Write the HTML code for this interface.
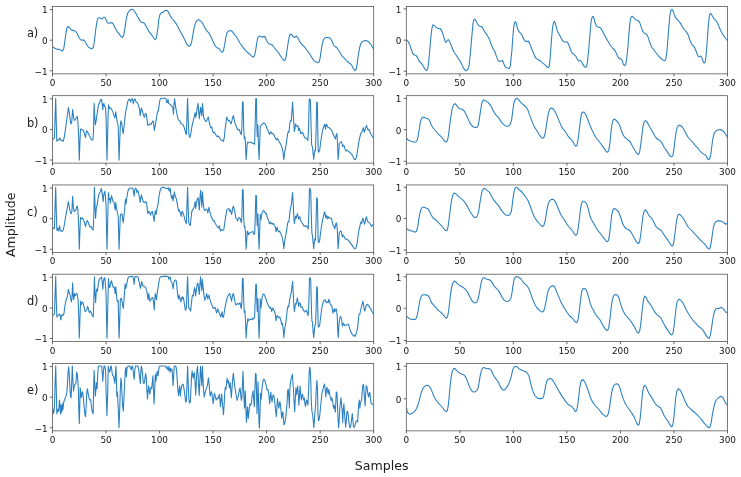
<!DOCTYPE html>
<html><head><meta charset="utf-8"><title>Signals</title>
<style>
html,body{margin:0;padding:0;background:#fff;}
svg{display:block;font-family:"DejaVu Sans","Liberation Sans",sans-serif;}
.t{font-size:8.9px;fill:#141414;}
.r{font-size:11.4px;fill:#1a1a1a;}
.l{font-size:12.6px;fill:#1a1a1a;}
.c{fill:none;stroke:#2a80c1;stroke-width:1.08;stroke-linejoin:round;stroke-linecap:butt;}
.s{fill:none;stroke:#4d4d4d;stroke-width:0.75;}
.k{stroke:#333;stroke-width:0.75;}
</style></head><body>
<svg width="741" height="477" viewBox="0 0 741 477">
<rect width="741" height="477" fill="#fff"/>

<g>
<clipPath id="cp00"><rect x="52.5" y="6.45" width="321.2" height="67.4"/></clipPath>
<polyline class="c" clip-path="url(#cp00)" points="52.7,46.6 54.5,48.1 56.8,49.3 59.4,49.4 61.3,50.5 62.5,50.9 63.6,49.3 64.6,43.2 65.8,34.2 66.9,28.1 68.0,26.3 69.3,27.7 71.1,29.7 72.6,30.4 74.4,30.6 76.0,31.6 77.5,34.2 79.0,37.5 80.5,39.8 82.0,40.2 83.5,39.9 85.0,41.4 87.0,45.0 88.5,47.3 90.4,48.4 92.2,48.7 93.5,47.0 94.5,40.2 95.7,29.7 97.1,20.6 98.3,17.9 99.5,17.6 101.0,18.6 102.5,18.5 103.6,17.3 104.8,17.3 105.8,19.1 107.0,22.1 108.5,23.3 110.1,22.9 111.9,22.7 113.4,24.4 115.2,28.1 117.1,31.6 119.1,33.9 120.9,36.4 122.4,37.5 123.5,36.0 124.7,29.7 126.2,19.1 127.7,13.1 129.7,10.3 131.5,9.3 133.0,9.6 134.5,11.2 136.3,14.3 138.3,17.9 140.2,21.1 141.7,22.4 143.6,22.7 145.1,24.4 147.3,28.4 149.6,32.4 151.9,35.2 153.8,38.0 155.2,39.6 156.4,38.0 157.4,31.2 158.0,28.1 158.8,19.1 159.8,14.9 161.0,13.1 162.8,12.3 164.8,10.8 166.3,10.2 167.5,10.8 168.9,13.1 170.4,16.1 171.9,18.5 173.8,20.6 176.1,23.6 178.4,27.8 180.6,31.9 182.9,36.0 185.2,41.0 187.0,44.4 188.5,46.1 189.7,46.2 190.9,44.4 192.0,40.2 193.0,34.2 194.2,27.4 195.7,22.4 197.2,20.3 198.7,19.8 200.6,20.9 202.5,22.9 204.0,25.9 205.5,28.9 207.0,31.2 209.0,33.0 210.8,36.4 213.1,41.4 215.0,45.5 216.5,47.5 218.4,48.2 219.9,49.7 221.4,52.0 222.6,52.3 223.6,50.0 224.7,44.7 225.9,37.2 227.1,32.7 228.6,31.2 230.4,30.6 231.9,31.2 233.7,33.4 235.7,36.0 238.0,39.5 240.2,43.5 242.5,46.6 244.8,49.6 247.0,52.0 249.3,53.8 251.6,56.1 253.4,57.3 254.6,55.3 255.8,49.3 257.0,41.7 258.0,37.5 259.4,36.0 260.9,36.4 262.4,37.2 263.6,36.6 264.8,36.4 266.0,39.0 267.2,41.7 268.7,43.7 270.5,44.4 272.0,44.7 273.8,47.0 275.8,49.6 278.1,52.0 279.9,55.0 281.8,58.0 283.4,59.8 284.7,60.6 285.9,57.6 287.1,50.0 288.3,41.7 289.4,36.0 290.4,33.9 291.7,34.5 292.9,36.4 294.2,37.5 295.4,36.9 296.6,36.0 298.0,38.0 299.5,41.4 301.5,44.0 303.7,46.2 306.0,49.0 308.2,52.0 310.5,55.3 312.5,58.6 314.3,61.0 316.1,62.1 317.6,62.8 318.8,62.5 319.9,59.1 320.9,52.3 322.1,44.7 323.3,39.9 324.8,38.0 326.7,37.5 328.6,37.5 330.1,38.0 331.6,40.2 333.1,44.0 334.2,45.9 335.4,46.7 336.9,47.8 338.4,50.0 340.2,53.0 342.2,56.1 344.5,58.3 346.7,61.0 349.0,62.8 350.8,64.1 352.3,66.2 353.8,69.2 355.0,70.7 356.1,69.6 357.1,64.4 358.3,55.3 359.6,47.8 360.8,43.5 362.3,41.7 364.1,40.8 365.6,40.4 367.4,41.0 369.4,42.6 371.3,45.0 372.8,47.8 373.6,48.8"/>
<rect class="s" x="52.5" y="6.45" width="321.2" height="67.4"/>
<line class="k" x1="52.50" y1="73.85" x2="52.50" y2="76.45"/>
<text class="t" x="52.50" y="85.95" text-anchor="middle">0</text>
<line class="k" x1="106.03" y1="73.85" x2="106.03" y2="76.45"/>
<text class="t" x="106.03" y="85.95" text-anchor="middle">50</text>
<line class="k" x1="159.57" y1="73.85" x2="159.57" y2="76.45"/>
<text class="t" x="159.57" y="85.95" text-anchor="middle">100</text>
<line class="k" x1="213.10" y1="73.85" x2="213.10" y2="76.45"/>
<text class="t" x="213.10" y="85.95" text-anchor="middle">150</text>
<line class="k" x1="266.63" y1="73.85" x2="266.63" y2="76.45"/>
<text class="t" x="266.63" y="85.95" text-anchor="middle">200</text>
<line class="k" x1="320.17" y1="73.85" x2="320.17" y2="76.45"/>
<text class="t" x="320.17" y="85.95" text-anchor="middle">250</text>
<line class="k" x1="373.70" y1="73.85" x2="373.70" y2="76.45"/>
<text class="t" x="373.70" y="85.95" text-anchor="middle">300</text>
<line class="k" x1="49.90" y1="9.50" x2="52.50" y2="9.50"/>
<text class="t" x="47.70" y="13.30" text-anchor="end">1</text>
<line class="k" x1="49.90" y1="40.20" x2="52.50" y2="40.20"/>
<text class="t" x="47.70" y="44.00" text-anchor="end">0</text>
<line class="k" x1="49.90" y1="70.75" x2="52.50" y2="70.75"/>
<text class="t" x="47.70" y="74.55" text-anchor="end">−1</text>
</g>
<g>
<clipPath id="cp01"><rect x="52.5" y="95.7" width="321.2" height="67.4"/></clipPath>
<polyline class="c" clip-path="url(#cp01)" points="52.7,138.3 53.8,139.0 54.5,136.8 55.1,115.6 55.7,98.3 56.3,123.2 56.8,141.3 57.8,139.8 58.8,140.1 59.7,137.8 60.6,140.1 61.8,140.2 63.3,141.3 64.3,136.8 65.5,129.2 66.9,118.7 68.4,107.6 69.3,112.6 70.1,119.4 70.8,123.9 71.7,122.4 72.6,109.6 73.4,115.6 74.1,120.2 75.3,119.9 76.4,117.4 77.2,116.4 77.9,121.7 78.7,138.3 79.3,160.1 79.9,142.8 80.5,129.2 81.4,128.9 82.4,130.0 83.5,130.7 84.7,134.5 85.6,137.5 86.5,130.7 87.4,131.9 88.5,133.7 89.5,136.0 90.7,138.3 91.9,140.1 92.9,139.8 93.5,132.2 94.1,103.3 94.7,115.6 95.3,125.0 96.0,121.7 97.1,114.1 98.3,105.8 99.5,102.8 100.7,99.8 101.6,99.3 102.2,103.6 102.8,109.6 103.4,103.9 104.0,103.6 104.6,106.6 105.5,107.3 106.0,115.6 107.0,160.3 108.1,115.6 108.5,104.8 109.1,108.8 109.8,107.3 110.7,108.1 111.9,109.9 113.1,112.6 114.1,115.6 114.9,117.9 115.8,111.9 116.4,117.1 117.3,122.4 118.2,125.4 118.7,145.8 119.1,160.1 119.7,142.8 120.3,126.2 120.9,120.9 121.7,123.2 122.4,129.2 123.2,133.7 123.9,127.7 124.8,118.7 125.7,111.9 126.7,107.3 127.6,102.1 128.5,99.8 129.7,99.3 130.6,102.1 131.2,99.8 132.1,98.6 132.7,99.8 133.3,103.9 133.9,100.5 134.8,99.0 135.4,99.3 136.0,102.1 136.9,102.4 137.8,103.6 138.7,105.8 139.6,109.6 140.2,115.6 140.8,111.9 141.4,107.8 142.0,109.6 142.8,112.6 143.6,115.6 144.5,117.1 145.4,113.4 146.3,114.1 146.9,118.7 147.8,125.4 148.8,124.7 149.9,123.9 151.1,124.4 152.3,121.7 153.2,120.9 153.8,125.4 154.4,130.4 155.3,125.4 156.4,118.7 157.4,111.9 158.0,111.9 158.8,108.1 159.5,102.1 160.4,98.7 161.8,98.3 163.7,98.3 165.2,98.4 166.1,99.0 166.8,102.8 167.4,102.1 168.0,99.3 168.6,103.3 169.5,103.9 170.7,105.1 171.9,106.3 172.8,107.3 173.4,114.1 174.0,105.1 174.6,98.7 175.4,105.1 176.1,109.6 177.0,114.1 177.9,118.7 178.8,120.2 179.9,120.9 180.6,123.2 181.8,123.9 182.9,124.4 184.0,127.0 184.9,130.0 185.8,133.7 186.4,134.5 187.0,115.6 187.6,98.3 188.2,118.7 188.8,133.7 189.7,137.5 190.6,135.2 191.5,129.2 192.4,123.9 193.5,120.2 194.5,115.6 195.1,112.6 195.7,117.1 196.5,114.1 197.2,108.1 198.1,103.3 198.7,111.1 199.3,118.7 199.9,112.6 200.6,107.3 201.2,112.6 201.8,115.6 202.4,103.6 203.0,109.6 203.6,117.1 204.5,119.4 205.5,120.9 206.6,121.4 207.5,118.7 208.4,117.1 209.0,120.9 209.9,125.4 210.8,127.7 211.7,127.0 212.6,130.7 213.5,133.0 214.4,132.2 215.3,134.0 216.5,136.0 217.6,136.8 218.7,136.0 219.9,138.3 221.1,140.1 222.3,140.5 223.5,141.3 224.4,136.8 225.1,129.2 225.9,123.2 226.7,117.1 227.4,118.7 228.3,120.9 229.2,120.2 230.1,121.7 231.0,123.9 231.9,120.9 232.8,117.1 233.4,115.6 234.2,119.4 235.0,123.2 235.9,125.4 236.8,127.7 237.7,130.0 238.6,129.2 239.5,130.0 240.4,133.0 241.3,134.5 241.9,127.7 242.5,102.1 243.1,102.1 243.7,127.7 244.3,139.0 244.9,136.8 245.5,144.3 246.1,159.4 246.7,151.8 247.3,142.8 247.9,142.0 248.8,142.8 250.0,142.5 251.3,142.0 252.5,143.5 253.7,143.5 254.6,144.3 255.2,123.2 255.8,98.6 256.4,98.6 256.8,123.2 257.3,136.8 257.9,124.7 258.5,145.8 259.1,159.4 259.7,142.8 260.3,126.2 261.2,125.4 262.4,123.9 263.6,122.9 264.8,123.2 265.9,125.4 266.0,125.4 266.9,128.5 267.8,130.0 268.7,132.2 269.6,134.5 270.2,132.5 271.1,131.9 272.0,133.7 272.9,133.4 273.8,134.5 274.8,136.8 275.7,139.0 276.6,139.8 277.5,138.3 278.4,140.5 279.3,142.0 280.2,143.5 281.1,145.1 282.0,147.3 282.9,151.1 283.8,159.7 284.4,154.9 285.0,150.3 285.9,145.8 286.8,139.8 287.7,133.7 288.3,131.5 288.9,132.2 289.5,127.0 290.1,121.7 290.7,120.2 291.3,120.9 292.0,111.1 292.6,102.1 293.2,112.6 293.8,123.2 294.4,131.5 295.0,128.5 295.6,123.9 296.2,125.4 297.1,126.5 298.0,125.9 298.6,130.7 299.2,128.5 300.0,130.0 300.7,133.7 301.6,133.0 302.5,132.2 303.4,134.5 304.3,136.8 305.2,138.3 306.1,138.0 307.0,139.0 307.9,140.5 308.6,127.7 309.2,99.3 309.8,99.0 310.4,100.2 311.0,123.2 311.6,144.3 312.5,147.3 313.1,153.4 313.7,159.4 314.3,153.4 314.9,150.0 315.5,150.6 316.1,130.7 316.7,102.1 317.3,102.4 317.8,130.7 318.2,151.5 318.8,152.1 319.7,150.3 320.6,142.8 321.5,136.8 322.4,131.5 323.3,127.7 324.2,125.4 324.8,124.4 325.5,129.2 326.1,125.0 326.7,124.4 327.6,127.0 328.5,127.4 329.4,128.0 330.6,129.2 331.8,130.4 332.7,133.0 333.6,135.2 334.5,137.1 335.4,139.0 336.2,135.2 336.9,133.4 337.5,142.8 338.1,159.4 338.7,153.4 339.3,143.5 340.2,142.5 341.1,141.6 342.0,143.5 342.7,146.6 343.3,145.1 344.2,145.8 345.1,149.1 346.0,151.1 346.9,150.0 347.8,150.6 349.0,151.8 350.2,152.6 351.4,154.1 352.6,155.6 353.5,157.9 354.4,159.4 355.3,159.7 356.2,157.9 357.1,153.4 358.0,147.3 358.9,141.3 359.9,136.8 360.8,133.4 361.7,132.5 362.6,130.0 363.2,127.7 363.8,130.0 364.4,132.2 365.0,130.0 365.9,127.0 366.5,125.4 367.1,127.4 368.0,130.0 368.9,129.2 369.8,131.5 370.7,133.7 371.6,135.2 372.5,136.8 373.6,138.1"/>
<rect class="s" x="52.5" y="95.7" width="321.2" height="67.4"/>
<line class="k" x1="52.50" y1="163.10" x2="52.50" y2="165.70"/>
<text class="t" x="52.50" y="175.20" text-anchor="middle">0</text>
<line class="k" x1="106.03" y1="163.10" x2="106.03" y2="165.70"/>
<text class="t" x="106.03" y="175.20" text-anchor="middle">50</text>
<line class="k" x1="159.57" y1="163.10" x2="159.57" y2="165.70"/>
<text class="t" x="159.57" y="175.20" text-anchor="middle">100</text>
<line class="k" x1="213.10" y1="163.10" x2="213.10" y2="165.70"/>
<text class="t" x="213.10" y="175.20" text-anchor="middle">150</text>
<line class="k" x1="266.63" y1="163.10" x2="266.63" y2="165.70"/>
<text class="t" x="266.63" y="175.20" text-anchor="middle">200</text>
<line class="k" x1="320.17" y1="163.10" x2="320.17" y2="165.70"/>
<text class="t" x="320.17" y="175.20" text-anchor="middle">250</text>
<line class="k" x1="373.70" y1="163.10" x2="373.70" y2="165.70"/>
<text class="t" x="373.70" y="175.20" text-anchor="middle">300</text>
<line class="k" x1="49.90" y1="98.75" x2="52.50" y2="98.75"/>
<text class="t" x="47.70" y="102.55" text-anchor="end">1</text>
<line class="k" x1="49.90" y1="129.45" x2="52.50" y2="129.45"/>
<text class="t" x="47.70" y="133.25" text-anchor="end">0</text>
<line class="k" x1="49.90" y1="160.00" x2="52.50" y2="160.00"/>
<text class="t" x="47.70" y="163.80" text-anchor="end">−1</text>
</g>
<g>
<clipPath id="cp02"><rect x="52.5" y="184.95" width="321.2" height="67.4"/></clipPath>
<polyline class="c" clip-path="url(#cp02)" points="52.7,227.3 53.6,228.8 54.5,228.0 55.1,204.6 55.7,187.3 56.3,212.2 56.9,230.3 57.8,228.0 58.4,231.0 59.1,228.8 59.7,225.8 60.3,231.0 61.2,230.6 62.1,231.5 63.3,230.0 64.3,225.0 65.4,218.2 66.6,211.4 67.5,206.9 68.4,201.6 69.3,206.9 70.2,211.4 71.1,213.7 71.9,211.4 72.6,196.3 73.4,207.7 74.1,211.4 75.0,210.7 76.0,209.9 76.6,206.9 77.2,206.1 77.9,209.9 78.7,227.3 79.3,249.1 79.9,231.8 80.5,217.5 81.4,219.0 82.3,217.9 83.5,219.7 84.7,223.5 85.6,226.5 86.5,221.5 87.4,220.5 88.3,222.7 89.5,226.1 90.4,227.3 91.3,226.5 92.2,229.1 93.2,230.0 93.8,216.7 94.4,187.3 95.0,204.6 95.6,218.2 96.2,209.2 97.1,204.6 98.3,197.1 99.2,193.3 100.4,191.8 101.3,188.3 101.9,191.1 102.5,195.6 103.1,201.6 103.7,195.6 104.3,192.3 104.9,191.4 105.5,197.1 106.0,204.6 107.0,249.3 108.1,204.6 108.5,192.6 109.1,199.4 109.8,198.6 110.4,203.1 111.0,198.6 111.6,195.6 112.2,198.6 113.1,201.6 114.0,202.4 114.6,206.1 115.2,209.9 115.8,202.4 116.4,207.7 117.3,212.2 118.2,216.0 118.7,234.8 119.1,249.1 119.7,231.8 120.3,216.0 121.2,213.7 122.1,214.4 122.7,219.7 123.3,222.7 123.9,216.7 124.8,207.7 125.4,199.4 126.0,203.9 126.7,198.6 127.6,192.6 128.5,189.5 129.7,188.3 130.9,188.0 132.1,188.0 133.0,188.8 133.6,192.3 134.2,196.3 134.8,189.5 135.4,188.3 136.3,188.8 136.9,192.6 137.5,190.8 138.1,191.1 138.7,194.1 139.6,197.8 140.2,202.4 140.8,198.6 141.4,194.8 142.0,197.1 142.9,200.9 143.9,202.4 144.8,202.4 145.7,201.6 146.6,203.1 147.2,208.4 147.8,213.7 148.7,211.4 149.6,212.2 150.5,215.2 151.4,212.2 152.3,211.4 152.9,214.4 153.5,217.5 154.1,221.5 154.7,215.2 155.3,210.7 156.1,214.4 156.8,209.9 157.4,206.9 158.0,204.6 158.9,197.1 159.8,191.8 161.0,188.3 162.2,187.3 164.0,187.4 165.5,188.3 166.8,188.8 167.7,188.0 168.3,187.7 168.9,190.3 169.5,191.1 170.1,188.0 170.7,192.6 171.3,196.3 171.9,198.6 172.5,195.6 173.1,200.9 173.7,197.1 174.3,191.8 174.9,194.8 175.5,197.1 176.1,197.8 177.0,202.4 177.9,207.7 178.8,211.4 179.4,209.9 180.3,212.9 181.2,216.4 181.8,212.2 182.4,211.4 183.0,212.9 184.0,216.0 184.9,219.7 185.8,222.7 186.4,223.5 187.0,204.6 187.6,187.3 188.2,207.7 188.8,222.7 189.7,225.0 190.3,225.5 190.9,219.7 191.8,211.4 192.7,209.9 193.6,208.4 194.5,205.4 195.1,201.6 195.7,208.4 196.6,201.6 197.5,198.6 198.1,197.8 198.7,203.1 199.3,209.9 199.9,198.6 200.6,190.3 201.2,198.6 201.8,206.9 202.4,191.8 203.0,200.1 203.6,206.9 204.5,210.7 205.4,209.9 206.3,209.2 207.2,209.9 207.8,212.9 208.4,209.9 209.0,207.3 209.6,210.7 210.5,214.4 211.4,217.5 212.3,218.2 213.2,220.9 214.1,220.5 215.0,222.7 216.2,225.0 217.5,227.0 218.4,228.0 219.3,225.8 219.9,228.8 220.5,231.0 221.4,229.5 222.6,230.3 223.8,230.0 224.4,225.0 225.3,219.0 226.2,213.7 227.1,209.2 228.0,208.9 228.9,208.4 229.8,211.4 230.4,209.9 231.0,212.2 231.6,214.4 232.2,211.4 232.8,207.7 233.4,206.1 234.0,208.4 235.0,212.9 235.9,218.2 236.8,219.0 237.7,220.9 238.6,218.2 239.5,217.5 240.4,219.0 241.3,222.7 241.9,216.7 242.5,189.5 243.1,189.5 243.7,216.7 244.3,227.3 244.9,226.5 245.5,233.3 246.1,249.1 246.7,240.8 247.3,231.0 247.9,231.8 248.5,234.8 249.4,233.3 250.3,232.5 251.6,232.1 252.8,231.5 253.7,234.1 254.6,234.1 255.2,219.7 255.8,195.6 256.4,195.6 256.8,216.7 257.3,225.8 257.9,213.7 258.5,234.8 259.1,249.1 259.7,231.8 260.3,214.4 260.9,219.7 261.5,216.0 262.4,212.2 263.3,210.4 264.5,211.4 265.7,213.7 266.0,212.9 266.9,216.0 267.8,219.0 268.7,220.5 269.3,223.5 269.9,222.0 270.8,223.9 271.7,222.7 272.6,224.2 273.5,223.5 274.4,225.8 275.4,227.3 276.0,231.8 276.6,228.8 277.2,227.3 277.8,230.3 278.7,231.8 279.6,231.0 280.5,233.3 281.4,234.8 282.3,237.8 283.2,242.4 283.8,248.7 284.4,243.9 285.0,239.3 285.9,234.8 286.8,228.8 287.7,223.0 288.3,221.5 288.9,222.0 289.5,216.0 290.1,210.7 290.7,207.7 291.3,204.6 292.0,198.6 292.6,192.6 293.2,203.1 293.8,216.7 294.4,223.5 295.0,219.7 295.6,216.0 296.2,218.2 296.8,216.0 297.4,213.7 298.0,216.0 298.6,219.0 299.2,217.5 299.8,216.7 300.4,219.7 301.3,221.5 302.2,223.0 303.1,224.2 304.0,226.1 304.9,225.8 305.8,226.5 306.7,226.1 307.6,227.3 308.2,229.1 308.9,212.2 309.5,188.3 310.1,188.8 310.7,191.1 311.3,215.2 311.9,233.3 312.5,235.6 313.1,242.4 313.7,248.7 314.3,242.4 314.9,238.6 315.5,240.1 316.1,219.7 316.7,197.8 317.3,198.3 317.8,221.2 318.2,241.6 318.8,242.7 319.7,240.1 320.6,232.5 321.5,226.5 322.4,221.2 323.3,216.7 324.2,212.9 324.8,211.9 325.5,217.5 326.1,215.2 326.7,216.7 327.3,219.0 327.9,216.0 328.5,218.2 329.4,217.5 330.6,218.2 331.5,218.5 332.4,222.7 333.3,225.8 334.2,226.5 334.8,228.8 335.4,225.8 336.2,222.7 336.9,225.0 337.5,233.3 338.1,248.7 338.7,242.4 339.3,232.5 340.2,231.5 341.1,231.0 341.7,233.3 342.4,237.1 343.0,235.1 343.9,236.3 344.8,238.1 345.7,239.3 346.9,239.0 348.1,240.1 349.3,241.6 350.5,243.1 351.7,244.6 352.9,246.6 354.1,248.4 355.3,248.7 356.2,247.2 357.1,243.1 358.0,236.3 358.9,230.0 359.9,226.5 360.5,222.7 361.1,222.0 361.7,223.5 362.3,220.5 362.9,218.2 363.5,220.5 364.1,222.7 364.7,224.2 365.3,221.5 365.9,218.2 366.5,216.7 367.1,219.7 368.0,222.0 368.9,222.4 369.8,223.5 370.7,225.0 371.6,226.5 372.5,225.0 373.6,224.1"/>
<rect class="s" x="52.5" y="184.95" width="321.2" height="67.4"/>
<line class="k" x1="52.50" y1="252.35" x2="52.50" y2="254.95"/>
<text class="t" x="52.50" y="264.45" text-anchor="middle">0</text>
<line class="k" x1="106.03" y1="252.35" x2="106.03" y2="254.95"/>
<text class="t" x="106.03" y="264.45" text-anchor="middle">50</text>
<line class="k" x1="159.57" y1="252.35" x2="159.57" y2="254.95"/>
<text class="t" x="159.57" y="264.45" text-anchor="middle">100</text>
<line class="k" x1="213.10" y1="252.35" x2="213.10" y2="254.95"/>
<text class="t" x="213.10" y="264.45" text-anchor="middle">150</text>
<line class="k" x1="266.63" y1="252.35" x2="266.63" y2="254.95"/>
<text class="t" x="266.63" y="264.45" text-anchor="middle">200</text>
<line class="k" x1="320.17" y1="252.35" x2="320.17" y2="254.95"/>
<text class="t" x="320.17" y="264.45" text-anchor="middle">250</text>
<line class="k" x1="373.70" y1="252.35" x2="373.70" y2="254.95"/>
<text class="t" x="373.70" y="264.45" text-anchor="middle">300</text>
<line class="k" x1="49.90" y1="188.00" x2="52.50" y2="188.00"/>
<text class="t" x="47.70" y="191.80" text-anchor="end">1</text>
<line class="k" x1="49.90" y1="218.70" x2="52.50" y2="218.70"/>
<text class="t" x="47.70" y="222.50" text-anchor="end">0</text>
<line class="k" x1="49.90" y1="249.25" x2="52.50" y2="249.25"/>
<text class="t" x="47.70" y="253.05" text-anchor="end">−1</text>
</g>
<g>
<clipPath id="cp03"><rect x="52.5" y="274.2" width="321.2" height="67.4"/></clipPath>
<polyline class="c" clip-path="url(#cp03)" points="52.7,314.8 53.6,315.1 54.5,314.0 55.1,293.6 55.7,276.3 56.3,301.2 56.9,317.0 57.8,315.5 58.8,314.8 59.7,314.0 60.3,316.3 60.9,320.0 61.5,315.5 62.1,314.8 63.0,315.5 63.9,314.0 64.8,306.5 65.7,301.9 66.6,298.9 67.5,295.9 68.4,289.4 69.3,292.9 70.2,295.1 70.8,298.9 71.4,301.9 72.0,298.2 72.6,282.8 73.2,295.1 73.8,299.7 74.4,293.6 75.0,295.9 76.0,294.4 76.9,293.3 77.5,296.7 78.1,298.9 78.7,316.3 79.3,338.1 79.9,320.8 80.5,301.2 81.1,305.0 81.7,303.4 82.3,301.9 83.2,303.4 84.1,307.2 85.0,311.4 85.9,311.0 86.8,309.5 87.4,306.5 88.0,307.2 88.6,310.2 89.5,312.5 90.4,311.0 91.3,313.2 92.2,315.5 93.2,317.0 93.8,301.2 94.4,276.7 95.0,293.6 95.6,302.7 96.2,292.1 96.8,289.1 97.4,291.4 98.3,284.6 99.2,279.3 100.1,278.5 101.0,277.8 101.6,277.0 102.2,281.6 102.8,289.1 103.4,282.3 104.0,278.5 104.9,277.8 105.5,286.1 106.0,293.6 107.0,338.3 108.1,293.6 108.5,278.5 109.1,286.8 109.8,287.6 110.4,284.6 111.0,281.6 111.6,280.8 112.2,283.8 112.8,286.1 113.4,287.6 114.0,286.8 114.6,289.1 115.2,293.6 115.8,286.8 116.4,293.6 117.0,300.4 117.6,301.9 118.2,300.4 118.7,323.8 119.1,338.1 119.7,320.8 120.3,300.4 120.9,298.2 121.5,298.9 122.1,301.2 122.7,305.7 123.3,308.4 123.9,301.2 124.5,292.9 125.1,283.8 125.7,288.4 126.4,286.1 127.0,283.1 127.6,279.3 128.5,277.3 129.7,276.7 131.2,276.4 132.4,276.4 133.0,277.0 133.6,280.1 134.2,284.3 134.8,277.0 135.7,276.4 136.9,276.7 138.1,277.3 138.7,280.1 139.3,282.3 139.9,286.1 140.5,288.4 141.1,284.6 141.7,281.6 142.3,283.8 142.9,286.1 143.9,286.1 144.8,286.8 145.7,287.6 146.3,289.9 146.9,291.4 147.5,295.9 148.1,299.7 148.7,293.6 149.3,297.4 149.9,301.2 150.8,299.7 151.7,298.2 152.6,297.4 153.2,299.7 153.8,305.0 154.3,309.9 154.7,301.2 155.3,293.6 155.9,296.7 156.5,299.7 157.1,293.6 158.0,288.4 158.8,283.1 159.5,278.5 160.7,276.7 162.5,276.4 164.8,276.4 167.1,276.4 168.3,276.7 168.9,279.3 169.5,277.3 170.1,277.0 170.7,280.1 171.3,281.6 171.9,283.1 172.5,284.6 173.1,288.8 173.7,283.8 174.3,280.4 175.2,280.1 176.1,280.4 176.7,284.6 177.3,290.6 177.9,295.9 178.5,298.9 179.1,295.1 179.7,297.4 180.3,300.4 180.9,301.9 181.5,298.2 182.1,296.7 182.7,298.9 183.3,297.4 184.0,301.2 184.6,305.7 185.2,309.5 185.8,310.2 186.4,307.2 187.0,290.6 187.6,276.7 188.2,295.1 188.8,308.0 189.7,308.7 190.6,311.0 191.2,305.7 191.8,299.7 192.4,295.1 193.3,295.9 193.9,292.1 194.5,287.6 195.1,289.9 195.7,295.9 196.3,290.6 196.9,286.1 197.5,283.1 198.1,283.8 198.7,289.1 199.3,294.4 199.9,284.6 200.6,276.7 201.2,284.6 201.8,290.6 202.4,279.3 203.0,286.1 203.6,292.1 204.2,296.7 204.8,300.4 205.4,298.2 206.0,297.4 206.6,293.6 207.2,295.9 207.8,298.9 208.4,296.7 209.0,295.1 209.6,298.2 210.5,301.2 211.4,304.2 212.3,305.7 213.2,308.4 214.1,308.0 215.0,307.2 215.9,310.2 216.5,313.2 217.1,311.0 217.8,308.7 218.4,311.0 219.3,313.2 220.2,315.5 220.8,317.0 221.4,314.8 222.0,311.7 222.6,316.3 223.2,317.5 223.8,315.5 224.4,311.7 225.0,307.2 225.6,305.0 226.2,301.9 227.1,298.2 228.0,295.9 228.9,294.4 229.8,293.6 230.4,295.9 231.0,298.9 231.6,301.2 232.2,297.4 232.8,294.4 233.4,293.6 234.0,296.7 234.7,300.4 235.3,303.4 235.9,305.0 236.8,304.2 237.7,303.4 238.6,304.5 239.5,303.4 240.1,302.7 240.7,306.5 241.3,308.7 241.9,301.2 242.5,278.5 243.1,278.5 243.7,301.2 244.3,312.5 244.9,310.5 245.5,320.8 246.1,338.1 246.7,328.3 247.3,323.1 247.9,318.5 248.5,320.8 249.1,320.0 250.0,319.6 250.9,319.0 251.9,319.6 252.8,318.1 253.7,319.0 254.6,317.0 255.2,301.2 255.8,284.6 256.4,284.6 256.8,301.2 257.3,311.7 257.9,298.2 258.5,320.8 259.1,338.1 259.7,320.8 260.3,298.9 260.9,308.0 261.5,303.4 262.1,297.4 263.0,294.4 263.9,293.9 264.8,295.9 265.7,298.2 266.0,298.9 266.9,301.9 267.8,304.2 268.7,306.0 269.6,308.0 270.5,307.2 271.1,308.7 271.7,311.4 272.3,308.7 272.9,308.0 273.5,310.2 274.4,311.0 275.4,314.8 276.0,320.8 276.6,317.0 277.2,315.5 278.1,317.0 279.0,317.8 279.9,317.0 280.5,319.3 281.1,321.5 281.7,324.6 282.3,323.1 282.9,326.8 283.5,331.4 283.8,337.7 284.4,331.4 285.0,327.1 285.6,323.8 286.2,319.3 286.8,314.0 287.4,308.7 288.0,306.0 288.6,307.2 289.2,303.4 289.8,298.9 290.4,295.9 291.0,293.6 291.7,289.1 292.6,281.3 293.2,292.1 293.8,304.2 294.4,311.4 295.0,307.2 295.6,303.4 296.2,304.2 296.8,301.2 297.4,297.9 298.0,301.2 298.6,306.5 299.2,303.4 299.8,302.7 300.4,305.0 301.0,307.2 301.9,306.5 302.8,308.7 303.7,310.5 304.6,312.0 305.5,311.0 306.4,310.2 307.3,313.2 308.2,315.5 308.9,301.2 309.5,277.8 310.1,277.8 310.7,280.1 311.3,304.2 311.9,320.8 312.5,322.3 313.1,331.4 313.7,337.7 314.3,331.4 314.9,325.3 315.5,324.6 316.1,308.7 316.7,286.8 317.3,287.3 317.8,310.2 318.2,326.8 318.8,327.1 319.7,325.3 320.6,317.8 321.5,310.2 322.4,305.0 323.3,301.9 324.2,300.4 325.1,299.7 325.8,301.2 326.4,302.7 327.3,301.9 328.2,302.7 328.8,299.4 329.4,300.4 330.0,303.4 330.9,305.0 331.8,305.7 332.4,310.2 333.0,313.2 333.6,310.5 334.2,308.7 334.8,311.7 335.4,311.0 336.0,308.7 336.6,309.9 337.2,316.3 337.8,331.4 338.3,337.7 338.7,328.3 339.3,320.8 339.9,317.8 340.5,316.6 341.1,317.0 341.7,320.0 342.4,326.1 343.0,324.6 343.6,323.1 344.2,324.6 345.1,325.6 346.0,325.3 346.9,324.6 347.8,324.1 348.7,325.0 349.6,328.3 350.5,331.4 351.4,332.9 352.3,334.4 353.2,335.6 354.1,336.2 354.7,335.1 355.3,336.2 355.9,334.4 356.8,331.4 357.7,326.8 358.3,320.8 358.9,314.8 359.9,314.0 360.5,311.0 361.4,307.2 362.3,303.4 363.0,301.2 363.6,305.0 364.2,309.5 364.8,311.0 365.4,308.7 366.2,305.7 367.1,304.2 368.0,305.0 368.9,306.5 369.8,307.2 370.7,308.7 371.6,311.0 372.5,312.5 373.6,314.2"/>
<rect class="s" x="52.5" y="274.2" width="321.2" height="67.4"/>
<line class="k" x1="52.50" y1="341.60" x2="52.50" y2="344.20"/>
<text class="t" x="52.50" y="353.70" text-anchor="middle">0</text>
<line class="k" x1="106.03" y1="341.60" x2="106.03" y2="344.20"/>
<text class="t" x="106.03" y="353.70" text-anchor="middle">50</text>
<line class="k" x1="159.57" y1="341.60" x2="159.57" y2="344.20"/>
<text class="t" x="159.57" y="353.70" text-anchor="middle">100</text>
<line class="k" x1="213.10" y1="341.60" x2="213.10" y2="344.20"/>
<text class="t" x="213.10" y="353.70" text-anchor="middle">150</text>
<line class="k" x1="266.63" y1="341.60" x2="266.63" y2="344.20"/>
<text class="t" x="266.63" y="353.70" text-anchor="middle">200</text>
<line class="k" x1="320.17" y1="341.60" x2="320.17" y2="344.20"/>
<text class="t" x="320.17" y="353.70" text-anchor="middle">250</text>
<line class="k" x1="373.70" y1="341.60" x2="373.70" y2="344.20"/>
<text class="t" x="373.70" y="353.70" text-anchor="middle">300</text>
<line class="k" x1="49.90" y1="277.25" x2="52.50" y2="277.25"/>
<text class="t" x="47.70" y="281.05" text-anchor="end">1</text>
<line class="k" x1="49.90" y1="307.95" x2="52.50" y2="307.95"/>
<text class="t" x="47.70" y="311.75" text-anchor="end">0</text>
<line class="k" x1="49.90" y1="338.50" x2="52.50" y2="338.50"/>
<text class="t" x="47.70" y="342.30" text-anchor="end">−1</text>
</g>
<g>
<clipPath id="cp04"><rect x="52.5" y="363.45" width="321.2" height="67.4"/></clipPath>
<polyline class="c" clip-path="url(#cp04)" points="52.7,408.3 53.3,413.6 53.9,412.1 54.5,405.3 55.1,382.6 55.7,365.7 56.3,390.2 56.8,413.6 57.5,411.3 58.1,409.0 58.8,411.3 59.4,400.0 60.0,403.8 60.6,414.3 61.2,405.3 61.8,412.1 62.4,403.8 63.0,409.8 63.6,403.0 64.2,400.7 65.1,398.5 66.0,396.2 66.9,392.4 67.5,382.6 68.1,372.1 68.7,366.8 69.3,375.1 69.9,387.2 70.5,396.2 71.1,397.7 71.7,382.6 72.3,366.0 72.9,379.6 73.5,390.9 74.1,387.2 74.7,384.9 75.3,384.1 76.0,382.6 76.6,372.1 77.2,373.6 77.8,379.6 78.4,390.2 78.8,409.8 79.3,423.4 79.7,409.8 80.2,387.9 80.8,394.7 81.4,397.7 82.0,392.4 82.6,391.7 83.2,396.2 83.8,403.8 84.4,409.8 85.0,415.1 85.6,416.6 86.2,405.3 86.8,392.4 87.4,388.7 88.0,392.4 88.6,396.2 89.2,398.5 89.8,400.0 90.7,399.5 91.3,405.3 91.9,409.8 92.6,412.8 93.2,413.6 93.6,390.2 94.1,370.6 94.7,382.6 95.3,396.2 95.9,390.2 96.5,382.6 97.1,388.7 97.7,375.1 98.3,366.3 99.2,366.0 100.4,366.0 101.6,366.0 102.2,372.1 102.8,381.1 103.4,372.1 104.0,366.0 104.9,366.3 105.5,370.6 106.1,390.2 106.9,415.8 107.8,390.2 108.2,366.3 108.8,369.1 109.5,372.1 110.1,370.6 110.7,366.8 111.3,366.0 111.9,371.3 112.5,375.1 113.1,375.8 113.7,376.6 114.3,380.4 114.9,383.4 115.5,372.1 115.9,366.0 116.4,378.1 116.8,396.2 117.4,391.7 118.1,405.3 119.0,427.6 119.7,409.8 120.3,390.2 120.9,378.1 121.5,382.6 122.1,396.2 122.7,406.8 123.3,411.3 123.9,399.2 124.5,387.2 125.1,373.6 125.7,367.5 126.4,376.6 127.0,368.3 127.9,366.3 128.8,366.3 129.7,366.0 130.6,368.3 131.2,369.8 131.8,366.8 132.4,366.0 133.0,369.1 133.6,375.1 134.2,379.3 134.8,370.6 135.4,366.0 136.6,366.0 137.8,366.0 138.7,369.1 139.3,375.1 139.9,379.6 140.4,383.8 140.8,372.1 141.4,366.0 142.0,369.1 142.6,375.1 143.3,382.6 143.9,383.4 144.5,382.6 145.1,376.6 145.7,373.6 146.3,378.1 146.9,390.2 147.5,398.9 148.1,390.2 148.7,385.7 149.3,391.7 149.9,394.0 150.5,388.7 151.1,387.2 151.7,388.7 152.3,382.6 152.9,375.8 153.5,390.2 154.1,404.1 154.7,390.2 155.3,374.3 155.9,381.1 156.5,376.6 157.1,371.3 157.6,375.1 158.0,375.8 158.6,370.6 159.2,366.8 160.1,366.0 161.6,366.0 163.4,366.0 164.9,366.0 165.8,366.3 166.4,368.3 167.1,366.8 167.7,369.1 168.3,370.6 168.9,366.3 169.5,369.1 170.1,372.1 170.7,368.3 171.3,370.6 171.9,369.1 172.5,375.1 173.1,385.7 173.7,375.1 174.3,366.3 175.2,366.0 176.1,366.8 176.7,372.1 177.3,381.1 177.9,390.2 178.5,395.5 179.1,390.2 179.7,385.7 180.3,396.2 180.9,390.2 181.5,387.2 182.1,384.9 182.7,384.1 183.3,384.9 184.0,388.7 184.6,393.2 185.2,398.5 185.8,402.2 186.4,400.7 187.0,382.6 187.6,366.0 188.2,382.6 188.8,397.7 189.4,403.0 190.3,402.2 190.9,390.2 191.5,378.1 192.1,370.9 192.7,375.1 193.3,378.1 193.9,373.6 194.5,372.8 195.1,382.6 195.7,395.0 196.3,382.6 196.9,370.6 197.5,366.3 198.1,375.1 198.7,387.2 199.3,395.5 199.9,379.6 200.6,366.3 201.2,376.6 201.8,385.7 202.4,366.3 203.0,379.6 203.6,390.2 204.2,397.0 204.8,394.0 205.4,391.7 206.0,389.4 206.6,387.9 207.2,386.4 207.8,382.6 208.4,377.8 209.0,382.6 209.6,390.2 210.2,396.2 210.8,394.0 211.4,391.7 212.0,394.0 212.6,399.2 213.2,403.8 213.8,397.7 214.4,393.2 215.0,395.5 215.6,397.7 216.2,400.0 216.8,399.2 217.5,397.7 218.1,398.5 218.7,397.0 219.3,394.0 219.9,399.2 220.5,406.8 221.1,399.2 221.7,394.0 222.3,402.2 222.9,408.3 223.5,414.6 224.1,405.3 224.7,393.2 225.3,387.2 225.9,389.4 226.5,384.1 227.1,378.4 227.7,382.6 228.3,380.4 228.9,384.1 229.5,387.9 230.1,382.6 230.7,388.7 231.3,397.7 231.9,390.2 232.5,381.1 233.1,375.1 233.4,373.3 234.0,379.6 234.7,385.7 235.3,390.2 235.9,394.0 236.5,397.0 237.1,400.4 237.7,397.7 238.3,396.2 238.9,392.4 239.5,389.4 240.1,387.9 240.7,394.7 241.3,400.4 241.9,397.7 242.5,382.6 243.0,371.3 243.4,382.6 244.0,399.2 244.6,408.3 245.2,390.9 245.8,405.3 246.4,422.2 247.0,412.8 247.6,406.8 248.2,418.8 248.8,412.8 249.4,408.3 250.0,403.8 250.6,405.3 251.3,403.8 251.9,397.7 252.5,394.0 253.1,390.9 253.7,399.2 254.3,406.8 254.9,390.2 255.5,373.6 256.1,373.9 256.5,390.2 257.0,413.6 257.6,397.7 258.0,381.9 258.5,397.7 258.9,420.4 259.4,428.2 260.0,412.8 260.6,393.2 261.2,399.2 261.8,390.2 262.4,384.9 263.0,381.1 263.6,379.3 264.5,379.6 265.4,382.6 266.0,384.9 266.6,387.9 267.2,390.2 267.8,389.4 268.4,391.7 269.0,396.2 269.6,403.8 270.2,397.7 270.8,392.4 271.4,397.7 272.0,402.2 272.6,397.7 273.2,394.7 273.8,395.5 274.4,399.2 275.1,405.3 275.7,411.3 276.3,416.6 276.9,406.8 277.5,398.9 278.1,403.8 278.7,408.3 279.3,405.3 279.9,401.5 280.5,405.3 281.1,411.3 281.7,418.1 282.3,412.8 282.9,412.1 283.5,420.4 284.1,424.9 284.7,423.4 285.3,420.4 285.9,415.8 286.5,409.8 287.1,402.2 287.7,390.2 288.3,389.4 288.9,399.2 289.4,408.0 289.8,390.2 290.4,382.6 291.0,379.6 291.7,376.6 292.4,374.3 292.9,381.1 293.5,390.2 294.1,402.2 294.7,411.6 295.3,399.2 295.9,387.9 296.5,394.7 297.1,390.2 297.7,386.0 298.3,394.7 298.9,405.3 299.5,394.7 300.1,386.4 300.7,394.7 301.3,400.0 301.9,396.2 302.5,394.0 303.1,397.7 303.7,400.0 304.3,397.7 304.9,403.8 305.5,406.5 306.1,402.2 306.7,400.0 307.3,403.0 307.9,405.0 308.6,390.2 309.2,372.1 309.6,367.2 310.2,369.1 310.8,382.6 311.4,403.8 312.0,412.1 312.6,413.6 313.2,420.4 313.8,427.6 314.4,420.4 315.0,412.1 315.6,405.3 316.2,390.2 316.9,380.4 317.5,390.2 317.9,412.8 318.4,420.7 319.1,419.6 319.7,415.8 320.3,409.8 320.9,403.8 321.5,397.7 322.1,392.4 322.7,390.2 323.3,387.9 323.9,385.7 324.5,384.1 325.1,388.7 325.8,397.0 326.4,390.2 327.0,387.2 327.6,390.9 328.2,394.0 328.8,389.4 329.4,392.4 330.0,396.2 330.6,397.7 331.2,400.7 331.8,397.7 332.4,400.0 333.0,403.8 333.6,408.3 334.2,405.3 334.8,408.3 335.4,412.1 335.9,399.2 336.3,392.0 336.9,392.4 337.5,405.3 338.1,420.4 338.6,427.6 339.2,420.4 339.8,408.3 340.4,402.2 341.0,397.7 341.6,405.3 342.2,411.3 342.7,422.6 343.3,409.8 343.9,403.8 344.5,412.8 345.1,420.4 345.7,427.1 346.3,420.4 346.9,412.1 347.5,411.3 348.1,413.6 348.7,420.4 349.3,424.9 349.9,427.6 350.5,427.1 351.1,423.4 351.7,418.8 352.3,413.6 352.9,420.4 353.5,426.4 354.1,427.6 354.7,426.4 355.3,424.1 355.9,421.9 356.5,421.1 357.1,420.4 357.6,421.9 358.0,415.8 358.6,405.3 359.3,400.0 359.9,408.3 360.5,402.2 361.1,401.5 361.7,399.2 362.3,390.2 362.9,384.9 363.5,384.4 364.1,393.2 364.7,400.7 365.1,406.0 365.6,394.7 366.2,385.7 366.8,386.4 367.4,390.2 368.0,394.7 368.6,397.0 369.2,393.2 369.8,392.4 370.4,397.7 371.0,403.0 371.6,403.8 372.5,404.5 373.6,404.7"/>
<rect class="s" x="52.5" y="363.45" width="321.2" height="67.4"/>
<line class="k" x1="52.50" y1="430.85" x2="52.50" y2="433.45"/>
<text class="t" x="52.50" y="442.95" text-anchor="middle">0</text>
<line class="k" x1="106.03" y1="430.85" x2="106.03" y2="433.45"/>
<text class="t" x="106.03" y="442.95" text-anchor="middle">50</text>
<line class="k" x1="159.57" y1="430.85" x2="159.57" y2="433.45"/>
<text class="t" x="159.57" y="442.95" text-anchor="middle">100</text>
<line class="k" x1="213.10" y1="430.85" x2="213.10" y2="433.45"/>
<text class="t" x="213.10" y="442.95" text-anchor="middle">150</text>
<line class="k" x1="266.63" y1="430.85" x2="266.63" y2="433.45"/>
<text class="t" x="266.63" y="442.95" text-anchor="middle">200</text>
<line class="k" x1="320.17" y1="430.85" x2="320.17" y2="433.45"/>
<text class="t" x="320.17" y="442.95" text-anchor="middle">250</text>
<line class="k" x1="373.70" y1="430.85" x2="373.70" y2="433.45"/>
<text class="t" x="373.70" y="442.95" text-anchor="middle">300</text>
<line class="k" x1="49.90" y1="366.50" x2="52.50" y2="366.50"/>
<text class="t" x="47.70" y="370.30" text-anchor="end">1</text>
<line class="k" x1="49.90" y1="397.20" x2="52.50" y2="397.20"/>
<text class="t" x="47.70" y="401.00" text-anchor="end">0</text>
<line class="k" x1="49.90" y1="427.75" x2="52.50" y2="427.75"/>
<text class="t" x="47.70" y="431.55" text-anchor="end">−1</text>
</g>
<g>
<clipPath id="cp10"><rect x="406.3" y="6.45" width="321.2" height="67.4"/></clipPath>
<polyline class="c" clip-path="url(#cp10)" points="406.6,39.9 408.2,41.7 409.7,44.7 411.2,49.3 412.8,53.5 414.3,55.0 416.1,55.6 417.6,57.6 419.1,61.0 420.9,62.8 422.4,64.7 423.9,67.4 425.4,69.8 426.6,70.5 427.7,68.9 428.6,62.8 429.7,50.8 430.7,38.7 431.8,28.9 433.0,24.7 434.2,25.4 435.7,26.9 437.2,28.1 438.7,28.7 440.2,28.6 441.7,30.9 443.2,34.9 444.7,40.2 445.9,42.5 447.0,41.0 448.2,39.5 449.6,41.4 451.1,45.0 452.6,49.3 454.1,52.3 456.1,55.0 458.0,58.0 459.8,60.6 461.6,64.1 463.1,67.4 464.7,69.8 466.2,70.7 467.7,69.6 468.9,66.6 469.9,58.3 471.0,46.2 472.1,33.4 473.1,22.9 474.2,19.1 475.4,19.5 476.7,22.4 478.2,25.1 479.7,26.2 481.7,26.6 483.2,28.9 485.2,32.4 487.0,34.9 488.8,38.0 490.3,41.7 491.8,45.9 493.3,49.0 494.8,51.5 496.3,56.1 497.9,60.1 499.4,61.6 500.9,61.0 502.1,60.4 503.3,62.1 504.5,65.6 505.9,67.4 507.4,68.0 509.2,68.6 510.4,65.9 511.4,55.3 512.0,49.3 512.8,37.2 513.8,26.6 514.7,22.4 515.6,21.8 516.5,24.4 517.7,29.3 519.2,31.9 520.8,33.4 522.3,35.7 523.8,39.5 525.6,41.4 527.1,41.4 528.3,41.1 529.5,42.9 531.0,47.0 532.8,51.5 534.6,56.1 536.4,58.6 538.4,59.8 540.7,61.3 542.9,63.1 545.2,65.1 547.0,66.8 548.2,67.7 549.1,66.6 550.0,59.8 550.9,47.8 551.8,35.7 552.7,26.6 553.6,22.4 554.6,21.4 555.5,23.6 556.5,28.1 557.7,31.9 559.1,34.2 560.6,36.9 562.1,39.9 563.6,41.7 565.1,42.0 566.6,41.7 568.1,43.2 569.6,47.0 571.1,51.5 572.7,53.8 574.2,54.5 575.7,56.1 577.2,59.1 578.7,61.0 580.2,60.6 581.4,61.3 582.9,64.4 584.4,66.6 585.6,67.4 586.7,66.2 587.7,59.8 589.0,46.2 590.2,31.2 591.2,20.6 592.3,16.8 593.2,16.5 594.2,19.1 595.3,23.6 596.8,26.6 598.3,27.1 599.8,27.4 601.3,28.9 603.3,32.7 605.6,36.9 607.8,41.0 610.1,44.7 612.3,47.8 614.6,50.0 616.4,53.5 617.9,56.8 619.4,58.6 620.0,58.6 621.2,58.9 622.3,61.0 623.3,64.1 624.5,65.6 625.6,64.7 626.6,59.8 627.7,49.3 628.8,35.7 629.8,23.6 630.9,17.3 632.1,16.1 633.6,17.6 635.4,19.4 636.9,20.3 638.4,20.6 639.6,22.4 641.1,26.6 642.6,31.2 644.1,33.0 646.0,33.9 647.5,35.7 649.0,40.2 650.5,44.4 652.0,47.5 654.0,50.0 656.2,53.0 658.5,55.8 660.7,58.3 663.0,60.1 664.7,60.7 665.7,59.5 666.8,52.3 667.8,40.2 668.9,26.6 669.9,15.3 671.0,10.0 672.1,9.4 673.1,11.2 674.3,14.9 675.8,17.9 677.6,19.8 679.6,22.1 681.1,24.4 682.6,27.4 684.6,30.0 686.4,31.9 688.2,34.9 689.7,39.5 691.2,43.2 692.7,45.5 694.2,46.7 695.7,50.0 697.3,54.5 698.5,56.8 699.7,56.5 700.9,56.1 701.9,58.0 703.0,61.0 704.0,63.1 705.0,62.5 706.0,56.8 707.1,43.2 708.1,28.1 709.2,16.8 710.2,13.4 711.4,14.3 712.8,16.8 714.3,19.1 716.6,21.4 718.4,25.1 720.3,29.7 722.6,34.2 724.9,37.5 726.4,39.5 727.6,40.8"/>
<rect class="s" x="406.3" y="6.45" width="321.2" height="67.4"/>
<line class="k" x1="406.30" y1="73.85" x2="406.30" y2="76.45"/>
<text class="t" x="406.30" y="85.95" text-anchor="middle">0</text>
<line class="k" x1="459.83" y1="73.85" x2="459.83" y2="76.45"/>
<text class="t" x="459.83" y="85.95" text-anchor="middle">50</text>
<line class="k" x1="513.37" y1="73.85" x2="513.37" y2="76.45"/>
<text class="t" x="513.37" y="85.95" text-anchor="middle">100</text>
<line class="k" x1="566.90" y1="73.85" x2="566.90" y2="76.45"/>
<text class="t" x="566.90" y="85.95" text-anchor="middle">150</text>
<line class="k" x1="620.43" y1="73.85" x2="620.43" y2="76.45"/>
<text class="t" x="620.43" y="85.95" text-anchor="middle">200</text>
<line class="k" x1="673.97" y1="73.85" x2="673.97" y2="76.45"/>
<text class="t" x="673.97" y="85.95" text-anchor="middle">250</text>
<line class="k" x1="727.50" y1="73.85" x2="727.50" y2="76.45"/>
<text class="t" x="727.50" y="85.95" text-anchor="middle">300</text>
<line class="k" x1="403.70" y1="8.85" x2="406.30" y2="8.85"/>
<text class="t" x="401.50" y="12.65" text-anchor="end">1</text>
<line class="k" x1="403.70" y1="40.15" x2="406.30" y2="40.15"/>
<text class="t" x="401.50" y="43.95" text-anchor="end">0</text>
<line class="k" x1="403.70" y1="71.25" x2="406.30" y2="71.25"/>
<text class="t" x="401.50" y="75.05" text-anchor="end">−1</text>
</g>
<g>
<clipPath id="cp11"><rect x="406.3" y="95.7" width="321.2" height="67.4"/></clipPath>
<polyline class="c" clip-path="url(#cp11)" points="406.6,138.0 408.2,140.1 410.0,141.0 412.3,141.4 414.3,142.2 415.8,142.0 417.0,140.5 418.0,136.8 419.1,130.0 420.3,122.4 421.5,118.3 422.9,117.1 424.4,117.6 426.3,118.3 428.1,118.7 429.7,120.9 431.2,124.7 433.0,128.0 434.9,130.0 436.9,132.5 439.0,134.9 441.0,136.5 442.9,138.7 444.7,141.3 446.2,142.0 447.5,140.5 448.5,135.2 449.6,126.2 450.8,117.1 452.0,109.6 453.5,104.8 455.0,103.6 456.5,105.1 458.0,107.3 459.8,108.8 462.1,109.3 464.1,110.8 465.9,114.1 467.7,117.9 469.6,122.4 471.6,125.4 473.4,127.0 475.2,127.4 477.2,127.1 478.4,124.7 479.4,118.7 480.7,109.6 481.9,102.8 483.2,100.1 484.7,100.2 486.7,101.6 488.5,102.8 490.3,105.1 492.3,108.8 494.2,112.6 496.3,115.3 498.8,117.9 500.9,121.4 502.8,123.9 504.8,125.4 506.6,126.2 508.4,126.2 510.1,124.7 511.4,120.9 512.0,117.1 512.9,109.6 514.0,102.8 515.3,99.3 516.8,98.3 518.3,99.3 520.3,101.8 522.3,103.9 524.4,105.5 526.3,107.3 528.3,111.1 530.1,116.4 532.4,122.4 534.6,127.4 536.9,130.7 539.2,134.5 541.0,137.1 542.5,138.3 543.7,137.8 544.9,134.5 546.1,127.7 547.3,119.4 548.5,112.6 550.0,108.8 551.5,108.1 553.0,108.8 555.0,111.4 557.0,115.6 559.1,120.9 561.0,125.4 563.0,129.2 564.8,130.7 566.6,133.7 568.6,137.1 570.8,139.0 572.7,141.3 574.2,144.3 575.7,146.3 576.9,145.5 577.9,140.5 579.0,132.2 580.2,121.7 581.4,114.1 582.9,111.9 584.4,112.3 585.9,114.9 587.7,119.4 589.7,124.7 592.0,130.0 594.2,134.5 596.2,138.0 598.3,140.5 600.7,143.5 602.8,146.6 604.9,149.6 606.5,151.8 607.7,152.3 608.7,150.3 609.8,144.3 610.8,133.7 611.9,124.7 613.1,120.2 614.3,119.0 615.8,120.2 617.6,122.0 619.4,124.7 620.0,126.5 621.2,130.0 622.7,134.0 624.5,137.1 626.3,138.7 628.3,140.1 630.3,142.0 632.1,145.5 633.9,148.8 635.8,151.8 637.4,153.8 638.6,154.4 639.6,152.1 640.7,145.1 641.9,135.2 642.9,127.0 644.1,122.0 645.3,120.6 646.6,121.4 648.4,124.4 650.2,127.7 652.4,131.5 654.4,135.2 656.2,138.0 658.0,139.5 660.0,140.5 661.9,143.1 664.1,147.3 666.5,150.6 668.3,153.4 670.1,156.1 671.6,156.8 672.8,155.6 673.9,149.6 674.9,140.5 676.1,132.2 677.3,127.0 678.8,125.0 680.4,125.4 682.2,127.0 684.1,130.0 686.1,133.7 687.9,137.1 690.2,139.5 692.4,142.0 694.7,144.8 697.0,147.3 699.2,150.0 701.5,152.6 703.7,154.1 705.7,155.2 707.2,157.9 708.4,159.7 709.6,159.1 710.7,154.9 711.7,147.3 712.9,138.3 714.2,133.4 715.7,131.2 717.3,130.1 719.3,129.7 720.8,129.5 722.6,130.7 724.4,132.5 726.1,134.9 727.6,137.7"/>
<rect class="s" x="406.3" y="95.7" width="321.2" height="67.4"/>
<line class="k" x1="406.30" y1="163.10" x2="406.30" y2="165.70"/>
<text class="t" x="406.30" y="175.20" text-anchor="middle">0</text>
<line class="k" x1="459.83" y1="163.10" x2="459.83" y2="165.70"/>
<text class="t" x="459.83" y="175.20" text-anchor="middle">50</text>
<line class="k" x1="513.37" y1="163.10" x2="513.37" y2="165.70"/>
<text class="t" x="513.37" y="175.20" text-anchor="middle">100</text>
<line class="k" x1="566.90" y1="163.10" x2="566.90" y2="165.70"/>
<text class="t" x="566.90" y="175.20" text-anchor="middle">150</text>
<line class="k" x1="620.43" y1="163.10" x2="620.43" y2="165.70"/>
<text class="t" x="620.43" y="175.20" text-anchor="middle">200</text>
<line class="k" x1="673.97" y1="163.10" x2="673.97" y2="165.70"/>
<text class="t" x="673.97" y="175.20" text-anchor="middle">250</text>
<line class="k" x1="727.50" y1="163.10" x2="727.50" y2="165.70"/>
<text class="t" x="727.50" y="175.20" text-anchor="middle">300</text>
<line class="k" x1="403.70" y1="98.60" x2="406.30" y2="98.60"/>
<text class="t" x="401.50" y="102.40" text-anchor="end">1</text>
<line class="k" x1="403.70" y1="129.70" x2="406.30" y2="129.70"/>
<text class="t" x="401.50" y="133.50" text-anchor="end">0</text>
<line class="k" x1="403.70" y1="161.30" x2="406.30" y2="161.30"/>
<text class="t" x="401.50" y="165.10" text-anchor="end">−1</text>
</g>
<g>
<clipPath id="cp12"><rect x="406.3" y="184.95" width="321.2" height="67.4"/></clipPath>
<polyline class="c" clip-path="url(#cp12)" points="406.6,228.5 408.2,229.8 410.0,230.6 412.3,231.0 414.0,231.8 415.3,232.2 416.5,231.0 417.6,227.3 418.6,220.9 419.8,213.7 421.1,209.2 422.4,207.3 423.9,207.3 425.9,208.1 427.8,208.6 429.3,210.7 430.9,214.4 432.7,217.5 434.5,219.0 436.4,220.5 438.4,222.7 440.5,224.7 442.5,227.0 444.4,229.5 445.9,230.7 447.2,230.3 448.2,225.8 449.3,217.5 450.5,207.7 451.7,199.4 453.0,194.4 454.5,193.0 456.1,194.1 458.0,195.9 460.1,197.8 462.1,199.4 464.1,201.3 465.9,203.9 467.7,206.9 469.6,210.7 471.6,214.0 473.4,216.4 474.9,217.5 476.4,217.2 477.6,215.2 478.8,210.7 480.0,202.4 481.3,194.8 482.5,189.8 484.0,188.3 485.5,189.1 487.3,190.6 489.3,192.1 491.2,195.6 493.3,199.4 495.7,202.4 498.3,205.4 500.6,208.9 502.8,212.2 504.8,214.1 506.6,215.2 508.4,215.5 509.9,214.4 511.3,211.4 512.0,206.9 512.9,199.4 514.0,191.8 515.2,188.0 516.5,187.3 518.0,188.5 519.8,190.3 521.8,191.8 524.1,194.8 526.3,197.8 528.3,201.3 530.1,205.8 532.4,212.2 534.6,217.5 536.9,220.9 539.2,223.5 541.0,225.5 542.5,226.5 543.7,225.8 544.9,222.0 546.1,215.2 547.3,207.7 548.5,202.8 550.0,200.4 551.5,199.4 553.0,199.4 554.6,200.4 556.5,204.3 558.5,209.2 560.6,214.0 562.5,217.5 564.5,220.0 566.6,223.5 568.6,226.5 570.8,228.8 572.7,231.0 574.2,233.8 575.7,235.3 576.9,234.5 577.9,230.0 579.0,222.0 580.2,211.4 581.4,203.9 582.6,201.3 584.0,201.2 585.5,202.4 587.0,204.6 588.5,209.9 590.0,216.0 591.5,219.7 593.5,223.0 595.7,227.3 598.0,230.6 600.3,233.3 602.5,236.3 604.6,239.0 606.2,241.1 607.4,241.8 608.6,240.1 609.6,234.1 610.7,224.2 611.7,215.2 612.9,209.9 614.2,208.4 615.7,209.2 617.3,210.4 619.1,212.9 620.0,215.5 621.2,219.0 622.7,223.5 624.5,227.0 626.3,228.8 628.3,229.5 630.3,231.0 632.1,234.1 633.9,237.5 635.8,240.8 637.4,242.8 638.4,243.6 639.6,241.6 640.7,234.8 641.9,225.0 642.9,216.4 644.1,211.4 645.3,209.9 646.6,211.0 648.1,214.0 649.9,216.7 651.7,218.2 653.5,221.5 655.5,225.8 657.4,228.0 659.2,229.2 661.0,230.3 663.0,233.3 665.3,236.6 667.5,239.6 669.5,242.7 671.0,245.1 672.2,246.1 673.3,244.6 674.3,238.6 675.4,229.5 676.6,220.5 677.8,215.2 679.1,214.1 680.7,215.2 682.6,217.5 684.6,220.5 686.4,223.9 688.2,227.0 690.6,229.5 693.2,232.2 695.4,234.5 697.7,237.1 700.0,239.6 702.2,241.9 704.5,243.9 706.3,246.1 707.8,248.4 709.0,249.1 710.1,247.6 711.1,243.1 712.2,235.6 713.3,228.0 714.5,223.5 715.8,221.7 717.8,220.9 719.6,220.9 721.4,221.2 723.2,222.4 724.7,223.5 725.9,224.2 727.6,223.0"/>
<rect class="s" x="406.3" y="184.95" width="321.2" height="67.4"/>
<line class="k" x1="406.30" y1="252.35" x2="406.30" y2="254.95"/>
<text class="t" x="406.30" y="264.45" text-anchor="middle">0</text>
<line class="k" x1="459.83" y1="252.35" x2="459.83" y2="254.95"/>
<text class="t" x="459.83" y="264.45" text-anchor="middle">50</text>
<line class="k" x1="513.37" y1="252.35" x2="513.37" y2="254.95"/>
<text class="t" x="513.37" y="264.45" text-anchor="middle">100</text>
<line class="k" x1="566.90" y1="252.35" x2="566.90" y2="254.95"/>
<text class="t" x="566.90" y="264.45" text-anchor="middle">150</text>
<line class="k" x1="620.43" y1="252.35" x2="620.43" y2="254.95"/>
<text class="t" x="620.43" y="264.45" text-anchor="middle">200</text>
<line class="k" x1="673.97" y1="252.35" x2="673.97" y2="254.95"/>
<text class="t" x="673.97" y="264.45" text-anchor="middle">250</text>
<line class="k" x1="727.50" y1="252.35" x2="727.50" y2="254.95"/>
<text class="t" x="727.50" y="264.45" text-anchor="middle">300</text>
<line class="k" x1="403.70" y1="187.35" x2="406.30" y2="187.35"/>
<text class="t" x="401.50" y="191.15" text-anchor="end">1</text>
<line class="k" x1="403.70" y1="218.55" x2="406.30" y2="218.55"/>
<text class="t" x="401.50" y="222.35" text-anchor="end">0</text>
<line class="k" x1="403.70" y1="250.05" x2="406.30" y2="250.05"/>
<text class="t" x="401.50" y="253.85" text-anchor="end">−1</text>
</g>
<g>
<clipPath id="cp13"><rect x="406.3" y="274.2" width="321.2" height="67.4"/></clipPath>
<polyline class="c" clip-path="url(#cp13)" points="406.6,316.0 407.9,317.5 409.4,318.7 411.2,319.3 413.1,319.4 414.6,319.6 415.8,319.0 417.0,316.3 418.0,311.4 419.1,305.0 420.3,298.9 421.5,295.9 423.0,294.8 424.8,294.8 426.6,295.1 428.1,295.6 429.3,297.4 430.6,300.9 432.1,303.4 433.9,305.4 435.7,307.2 437.5,309.5 439.5,311.4 441.4,312.8 443.2,314.8 445.0,317.0 446.2,318.1 447.5,317.0 448.5,311.7 449.6,302.7 450.6,293.6 451.7,286.8 452.9,282.8 454.4,281.1 455.9,281.9 457.7,283.8 459.8,285.6 462.1,286.8 464.4,288.4 466.2,290.3 468.0,292.9 469.8,296.7 471.6,300.1 473.4,302.4 475.2,303.0 476.7,302.2 477.9,299.7 479.1,294.4 480.4,286.8 481.6,280.8 482.8,278.1 484.0,277.6 485.5,278.5 487.0,279.3 488.8,279.6 490.6,280.4 492.4,283.1 494.2,286.1 496.3,288.4 498.5,290.6 500.3,293.6 502.1,297.4 503.9,300.0 505.9,301.2 507.8,301.5 509.6,300.4 511.1,297.4 512.0,292.9 512.9,286.1 514.0,279.8 515.3,277.0 516.8,276.6 518.6,277.3 520.8,278.8 522.6,281.3 524.8,283.8 527.1,285.8 528.9,288.8 530.7,293.6 532.8,299.7 534.9,304.5 537.0,308.0 539.2,310.2 541.0,311.4 542.5,312.0 543.7,311.0 544.9,307.2 546.1,301.2 547.3,294.4 548.5,289.9 550.0,287.3 551.5,286.1 553.0,285.6 554.6,286.8 556.2,290.6 558.0,295.1 560.3,300.4 562.5,305.0 564.8,308.7 567.1,312.5 569.3,315.5 571.6,317.5 573.6,319.6 575.1,321.7 576.4,322.6 577.5,321.5 578.5,317.0 579.6,308.7 580.7,298.9 581.7,291.4 582.9,288.8 584.1,288.4 585.6,289.1 587.1,292.1 588.7,297.4 590.2,303.4 591.7,307.2 593.5,310.2 595.3,314.0 597.3,316.6 599.5,319.0 601.3,322.3 603.3,326.1 605.3,329.1 606.8,330.5 608.0,329.8 609.0,326.1 610.1,317.8 611.1,308.0 612.2,300.4 613.4,296.3 614.6,294.8 616.1,294.5 617.6,295.4 619.1,298.2 620.0,301.9 621.2,305.7 622.7,309.9 624.5,313.6 626.3,316.0 628.3,318.1 630.3,320.5 632.1,323.1 633.9,326.1 635.7,329.5 637.2,332.1 638.4,333.2 639.6,331.4 640.7,324.6 641.7,314.8 642.8,305.0 643.8,298.2 645.0,296.0 646.3,297.9 647.8,301.2 649.6,303.4 651.7,306.5 653.5,309.9 655.5,313.2 657.4,315.1 659.2,316.3 661.0,318.1 663.0,322.3 665.0,326.1 667.1,329.1 669.0,332.1 670.7,334.4 671.9,335.0 673.0,333.2 674.0,326.8 675.1,317.0 676.1,307.2 677.3,301.2 678.8,299.2 680.4,300.0 682.2,301.9 684.0,305.0 686.1,309.5 688.2,313.2 690.6,317.0 692.7,320.0 694.8,322.3 697.0,324.6 699.2,326.8 701.5,328.6 703.3,330.6 705.1,333.6 706.6,336.2 708.1,338.1 709.3,338.1 710.4,335.1 711.4,329.1 712.5,321.5 713.6,314.8 714.8,310.5 716.3,308.7 717.8,308.3 719.0,308.7 720.2,307.7 721.4,307.4 722.9,308.4 724.4,310.2 725.6,312.0 726.8,312.5 727.6,312.0"/>
<rect class="s" x="406.3" y="274.2" width="321.2" height="67.4"/>
<line class="k" x1="406.30" y1="341.60" x2="406.30" y2="344.20"/>
<text class="t" x="406.30" y="353.70" text-anchor="middle">0</text>
<line class="k" x1="459.83" y1="341.60" x2="459.83" y2="344.20"/>
<text class="t" x="459.83" y="353.70" text-anchor="middle">50</text>
<line class="k" x1="513.37" y1="341.60" x2="513.37" y2="344.20"/>
<text class="t" x="513.37" y="353.70" text-anchor="middle">100</text>
<line class="k" x1="566.90" y1="341.60" x2="566.90" y2="344.20"/>
<text class="t" x="566.90" y="353.70" text-anchor="middle">150</text>
<line class="k" x1="620.43" y1="341.60" x2="620.43" y2="344.20"/>
<text class="t" x="620.43" y="353.70" text-anchor="middle">200</text>
<line class="k" x1="673.97" y1="341.60" x2="673.97" y2="344.20"/>
<text class="t" x="673.97" y="353.70" text-anchor="middle">250</text>
<line class="k" x1="727.50" y1="341.60" x2="727.50" y2="344.20"/>
<text class="t" x="727.50" y="353.70" text-anchor="middle">300</text>
<line class="k" x1="403.70" y1="276.80" x2="406.30" y2="276.80"/>
<text class="t" x="401.50" y="280.60" text-anchor="end">1</text>
<line class="k" x1="403.70" y1="308.20" x2="406.30" y2="308.20"/>
<text class="t" x="401.50" y="312.00" text-anchor="end">0</text>
<line class="k" x1="403.70" y1="340.50" x2="406.30" y2="340.50"/>
<text class="t" x="401.50" y="344.30" text-anchor="end">−1</text>
</g>
<g>
<clipPath id="cp14"><rect x="406.3" y="363.45" width="321.2" height="67.4"/></clipPath>
<polyline class="c" clip-path="url(#cp14)" points="406.6,408.0 407.3,412.1 408.5,413.6 410.0,414.3 411.8,413.6 413.8,412.1 415.8,409.8 417.3,406.8 418.8,402.2 420.3,396.2 421.8,390.9 423.3,387.9 425.1,386.0 426.9,385.3 428.9,386.0 430.6,388.4 432.4,392.4 434.2,397.0 436.0,400.0 438.0,402.6 440.2,405.0 442.5,407.5 444.4,410.1 445.9,411.6 447.2,411.0 448.1,406.8 449.0,398.5 450.0,387.2 451.1,377.4 452.3,371.3 453.8,368.6 455.0,368.6 456.5,370.3 458.3,372.1 460.1,373.3 462.1,374.3 464.1,375.1 465.6,376.9 467.1,380.4 468.6,384.4 470.4,388.7 472.2,391.4 473.7,392.1 475.2,391.7 476.7,390.6 477.9,388.7 479.0,383.4 480.0,376.6 481.3,370.9 482.5,368.0 484.0,367.5 485.5,368.3 487.3,368.8 489.3,368.6 490.8,369.8 492.3,372.8 494.2,376.6 496.3,379.3 498.3,382.3 500.3,386.4 502.1,389.4 503.6,390.2 505.1,389.4 506.9,387.2 508.7,383.8 510.4,379.6 511.6,375.1 512.0,372.8 512.9,369.4 514.1,367.1 515.6,366.3 517.3,367.1 519.2,368.8 521.4,370.1 523.8,370.9 525.9,371.8 527.7,373.6 529.2,376.9 530.4,381.9 531.6,387.2 533.1,391.7 534.9,395.5 536.9,397.7 538.9,398.6 540.7,398.6 542.5,398.5 543.7,396.2 544.7,390.9 545.8,384.9 547.0,380.8 548.5,378.9 550.0,378.4 551.5,378.9 553.3,381.1 555.5,384.9 557.6,388.7 559.7,392.4 561.8,395.9 563.9,398.9 566.0,401.9 568.1,404.5 570.1,405.7 571.9,406.5 573.6,408.6 574.8,411.0 575.8,411.6 576.9,409.5 577.8,404.5 578.7,397.0 579.6,388.7 580.7,382.6 581.9,380.1 583.2,379.9 584.7,381.9 586.2,385.3 587.7,389.4 589.3,394.0 590.8,398.5 592.6,401.9 594.7,405.0 596.8,407.2 598.9,409.5 601.0,412.1 602.8,414.3 604.6,415.8 606.2,416.4 607.4,415.8 608.6,412.8 609.6,406.8 610.7,399.2 611.7,392.4 612.8,387.9 614.0,385.3 615.5,384.1 617.0,383.7 618.4,384.4 619.6,387.2 620.0,387.9 621.2,392.4 622.7,397.4 624.5,401.9 626.3,405.3 628.3,408.3 630.3,411.0 632.1,413.6 633.9,416.6 635.4,420.1 636.9,423.4 638.1,425.2 639.2,424.1 640.1,418.8 641.0,409.8 641.9,399.2 642.8,390.9 643.8,386.4 645.0,385.2 646.3,387.2 647.8,390.9 649.6,394.4 651.7,397.4 653.5,400.7 655.3,403.8 657.1,405.6 658.9,406.8 660.7,408.0 662.2,411.3 664.1,415.5 666.0,418.5 668.0,421.1 669.5,424.1 671.0,426.4 672.2,426.4 673.1,423.4 674.0,416.6 674.9,406.8 675.8,397.0 676.9,390.9 678.2,388.7 679.6,389.4 681.1,391.7 682.8,395.5 684.6,400.0 686.4,404.1 688.2,406.8 690.3,408.6 692.4,410.5 694.7,412.5 697.0,414.6 699.2,417.0 701.5,419.6 703.7,422.6 705.7,424.9 707.5,426.8 709.0,427.9 710.2,426.4 711.3,421.9 712.3,415.1 713.6,408.3 714.8,403.0 716.3,400.0 718.1,398.0 719.9,396.7 721.4,396.4 722.9,397.7 724.4,400.4 725.9,403.5 727.6,405.4"/>
<rect class="s" x="406.3" y="363.45" width="321.2" height="67.4"/>
<line class="k" x1="406.30" y1="430.85" x2="406.30" y2="433.45"/>
<text class="t" x="406.30" y="442.95" text-anchor="middle">0</text>
<line class="k" x1="459.83" y1="430.85" x2="459.83" y2="433.45"/>
<text class="t" x="459.83" y="442.95" text-anchor="middle">50</text>
<line class="k" x1="513.37" y1="430.85" x2="513.37" y2="433.45"/>
<text class="t" x="513.37" y="442.95" text-anchor="middle">100</text>
<line class="k" x1="566.90" y1="430.85" x2="566.90" y2="433.45"/>
<text class="t" x="566.90" y="442.95" text-anchor="middle">150</text>
<line class="k" x1="620.43" y1="430.85" x2="620.43" y2="433.45"/>
<text class="t" x="620.43" y="442.95" text-anchor="middle">200</text>
<line class="k" x1="673.97" y1="430.85" x2="673.97" y2="433.45"/>
<text class="t" x="673.97" y="442.95" text-anchor="middle">250</text>
<line class="k" x1="727.50" y1="430.85" x2="727.50" y2="433.45"/>
<text class="t" x="727.50" y="442.95" text-anchor="middle">300</text>
<line class="k" x1="403.70" y1="366.25" x2="406.30" y2="366.25"/>
<text class="t" x="401.50" y="370.05" text-anchor="end">1</text>
<line class="k" x1="403.70" y1="398.75" x2="406.30" y2="398.75"/>
<text class="t" x="401.50" y="402.55" text-anchor="end">0</text>
</g>
<text class="r" x="26.9" y="37.25">a)</text>
<text class="r" x="26.9" y="126.50">b)</text>
<text class="r" x="26.9" y="215.75">c)</text>
<text class="r" x="26.9" y="305.00">d)</text>
<text class="r" x="26.9" y="394.25">e)</text>
<text class="l" transform="translate(15.3,224.8) rotate(-90)" text-anchor="middle">Amplitude</text>
<text class="l" x="381.7" y="469.7" text-anchor="middle">Samples</text>
</svg></body></html>
